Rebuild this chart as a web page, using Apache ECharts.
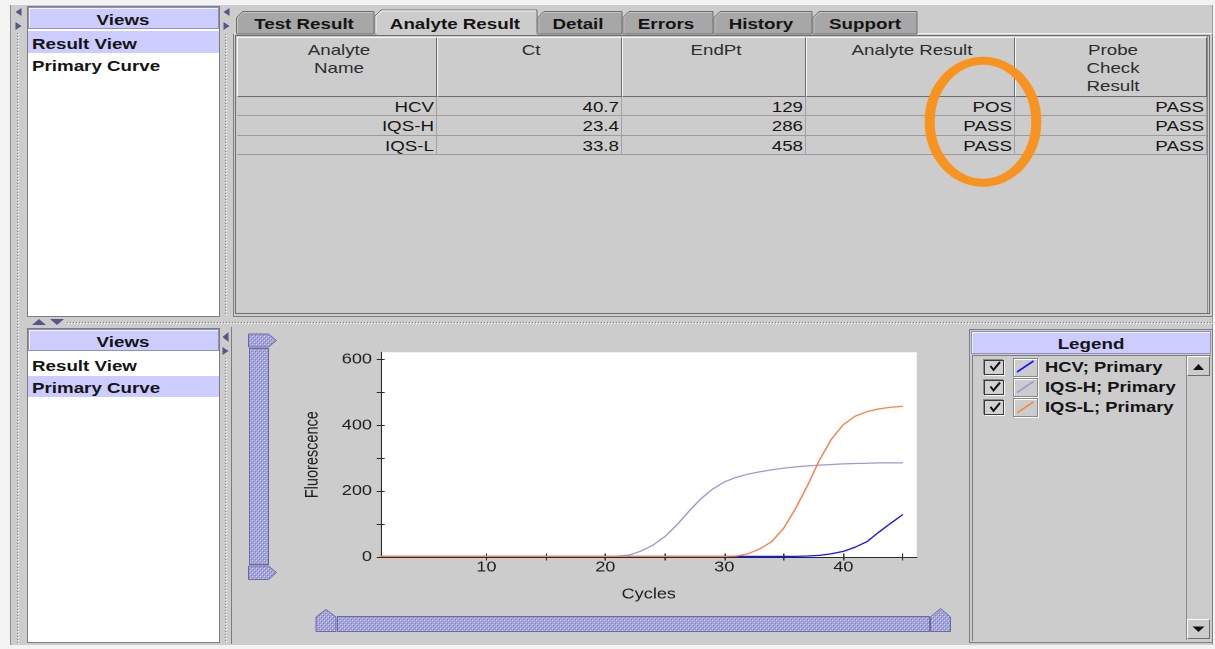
<!DOCTYPE html>
<html>
<head>
<meta charset="utf-8">
<title>Analyte Result</title>
<script src="https://cdn.jsdelivr.net/npm/echarts@6.0.0/dist/echarts.min.js"></script>
<style>
html,body{margin:0;padding:0;background:#f3f3f3;}
body{width:1215px;height:649px;overflow:hidden;font-family:"Liberation Sans",Arial,sans-serif;}
#root{position:absolute;left:0;top:0;width:1215px;height:649px;overflow:hidden;}
.b{position:absolute;box-sizing:border-box;}
.t{position:absolute;white-space:nowrap;line-height:1;color:#141414;font-size:15px;}
.bold{font-weight:bold;}
#chartWrap{position:absolute;left:232px;top:328px;width:735px;height:317px;}
#chart{position:absolute;left:0;top:0;width:588px;height:317px;transform:scaleX(1.25);transform-origin:0 0;}
</style>
</head>
<body>
<div id="root"></div>
<div id="chartWrap"><div id="chart"></div></div>
<script>
// ---------------- data ----------------
const analytes = ['HCV', 'IQS-H', 'IQS-L'];
const ctValues = ['40.7', '23.4', '33.8'];
const endPtValues = ['129', '286', '458'];
const analyteResults = ['POS', 'PASS', 'PASS'];
const probeCheckResults = ['PASS', 'PASS', 'PASS'];
const tableHeaders = [['Analyte', 'Name'], ['Ct'], ['EndPt'], ['Analyte Result'], ['Probe', 'Check', 'Result']];
const tabLabels = ['Test Result', 'Analyte Result', 'Detail', 'Errors', 'History', 'Support'];
const viewItems = ['Result View', 'Primary Curve'];

const cycles = [1,2,3,4,5,6,7,8,9,10,11,12,13,14,15,16,17,18,19,20,21,22,23,24,25,26,27,28,29,30,31,32,33,34,35,36,37,38,39,40,41,42,43,44,45];
const hcvFluorescence = [2,2,2,2,2,2,2,2,2,2, 2,2,2,2,2,2,2,2,2,2, 2,2,2,2,2,2,2,2,2,2, 2,2,2,2,2, 2,3,5,10,17, 30,47,76,103,129];
const iqsHFluorescence = [2,2,2,2,2,2,2,2,2,2, 2,2,2,2,2,2,2,2,2,2, 3,6,18,36,62, 97,138,176,206,228, 242,252,259,265,270, 274,277,279,281,283, 284,285,286,286,286];
const iqsLFluorescence = [2,2,2,2,2,2,2,2,2,2, 2,2,2,2,2,2,2,2,2,2, 2,2,2,2,2,2,2,2,2,2, 3,10,25,47,88, 148,218,295,358,402, 428,442,450,455,458];
const fluorescenceSeries = [hcvFluorescence, iqsHFluorescence, iqsLFluorescence];

const yTickValues = [0, 100, 200, 300, 400, 500, 600];
const yLabelValues = [0, 200, 400, 600];
const xTickValues = [10, 15, 20, 25, 30, 35, 40, 45];
const xLabelValues = [10, 20, 30, 40];

// ---------------- styles ----------------
const lineColors = ['#1414ff', '#9a9ad6', '#ff8046'];
const SX = 1.25; // horizontal stretch of the reference screenshot

const root = document.getElementById('root');
function box(x, y, w, h, css) {
  const d = document.createElement('div');
  d.className = 'b';
  d.style.cssText = `left:${x}px;top:${y}px;width:${w}px;height:${h}px;` + (css || '');
  root.appendChild(d);
  return d;
}
function text(str, x, y, align, cls, css) {
  const d = document.createElement('div');
  d.className = 't ' + (cls || '');
  d.textContent = str;
  const o = align === 'center' ? '50%' : align === 'right' ? '100%' : '0%';
  const tx = align === 'center' ? '-50%' : align === 'right' ? '-100%' : '0px';
  d.style.cssText = `left:${x}px;top:${y}px;transform-origin:${o} 50%;transform:translate(${tx},-50%) scaleX(${SX});` + (css || '');
  root.appendChild(d);
  return d;
}
const dotsV = 'background:repeating-linear-gradient(to bottom,#858585 0 1px,transparent 1px 3px);';
const dotsVw = 'background:repeating-linear-gradient(to bottom,#ffffff 0 1px,transparent 1px 3px);';
const dotsH = 'background:repeating-linear-gradient(to right,#858585 0 1px,transparent 1px 3px);';
const dotsHw = 'background:repeating-linear-gradient(to right,#ffffff 0 1px,transparent 1px 3px);';

// ---------------- background chrome ----------------
box(10, 5, 1203, 640, 'background:#cccccc;');
box(10, 5, 1, 640, 'background:#8c8c8c;');
box(1212, 5, 1, 640, 'background:#a0a0a0;');
// splitter bumps
box(17, 33, 1, 612, dotsV); box(18, 34, 1, 611, dotsVw);
box(225, 34, 1, 282, dotsV); box(226, 35, 1, 281, dotsVw);
box(225, 358, 1, 285, dotsV); box(226, 359, 1, 284, dotsVw);
box(67, 322, 1146, 1, dotsH); box(68, 323, 1145, 1, dotsHw);

// top-left Views panel
box(27, 6, 193, 311, 'background:#ffffff;border:1px solid #7d7d7d;');
box(28, 7, 191, 22, 'background:#ccccff;border:1px solid #8f8fc0;box-shadow:inset 1px 1px 0 #f2f2ff;');
box(28, 31, 191, 22, 'background:#ccccff;');
// bottom-left Views panel
box(27, 328, 193, 315, 'background:#ffffff;border:1px solid #7d7d7d;');
box(28, 329, 191, 22, 'background:#ccccff;border:1px solid #8f8fc0;box-shadow:inset 1px 1px 0 #f2f2ff;');
box(28, 376, 191, 21, 'background:#ccccff;');

// tab content + table
box(233, 33, 980, 284, 'background:#cccccc;border:1px solid #7d7d7d;border-top-color:#f4f4f4;');
box(235, 35, 975, 279, 'border:1px solid #6e6e6e;background:#cccccc;');
const colX = [237, 437, 622, 806, 1015, 1207];
for (let i = 0; i < 5; i++) {
  box(colX[i], 37, colX[i + 1] - colX[i], 60, 'border-left:1px solid #f6f6f6;border-top:1px solid #f6f6f6;border-right:1px solid #6c6c6c;border-bottom:1px solid #6c6c6c;');
}
const rowTop = [96, 115, 134.5, 154];
rowTop.forEach((y, r) => { if (r > 0) box(237, Math.round(y), 970, 1, 'background:#9c9c9c;'); });
for (let i = 1; i < 6; i++) box(colX[i] - 1, 97, 1, 57, 'background:#a2a2a2;');
box(1207, 36, 1, 277, 'background:#8a8a8a;');

// chart panel border
box(231, 327, 1, 317, 'background:#7d7d7d;');

// legend panel
box(969, 329, 244, 314, 'background:#cccccc;border:1px solid #7d7d7d;');
box(971, 331, 240, 23, 'background:#ccccff;border:1px solid #8f8fc0;box-shadow:inset 1px 1px 0 #f2f2ff;');
box(972, 355, 239, 286, 'border-left:1px solid #7d7d7d;border-top:1px solid #7d7d7d;');
box(1186, 356, 24, 284, 'border-left:1px solid #8a8a8a;background:#cccccc;');
box(1187, 356, 23, 20, 'border:1px solid;border-color:#fafafa #6e6e6e #6e6e6e #fafafa;background:#cccccc;');
box(1187, 619, 23, 20, 'border:1px solid;border-color:#fafafa #6e6e6e #6e6e6e #fafafa;background:#cccccc;');
const legendY = [366.5, 387, 407.3];
legendY.forEach(cy => {
  box(984, cy - 7, 20, 15, 'background:#d2d2d2;border:1px solid #3a3a3a;box-shadow:1px 1px 0 #fafafa,-1px -1px 0 #8a8a8a;');
  box(1013, cy - 9, 25, 19, 'border:1px solid #8a8a8a;box-shadow:inset 1px 1px 0 #fafafa,1px 1px 0 #fafafa;');
});

// ---------------- vector chrome ----------------
const tabs = [[236.5, 374], [375, 537], [538, 622], [623, 713], [714, 812], [813, 917]];
const selectedTab = 1;
let svg = `<svg width="1215" height="649" xmlns="http://www.w3.org/2000/svg" style="position:absolute;left:0;top:0">`;
svg += `<defs><pattern id="dots" width="4" height="4" patternUnits="userSpaceOnUse"><rect width="4" height="4" fill="#a3a3db"/><rect width="1" height="1" fill="#d2d2f6"/><rect x="2" y="2" width="1" height="1" fill="#d2d2f6"/><rect x="1" y="1" width="1" height="1" fill="#8282bd"/><rect x="3" y="3" width="1" height="1" fill="#8282bd"/></pattern></defs>`;
tabs.forEach(([x0, x1], i) => {
  const sel = i === selectedTab; const top = sel ? 10 : 11.5;
  svg += `<polygon points="${x0},34 ${x0},${top + 6} ${x0 + 6},${top} ${x1},${top} ${x1},34" fill="${sel ? '#cccccc' : '#a7a7a7'}" stroke="#6e6e6e" stroke-width="1"/>`;
  svg += `<polyline points="${x0 + 1},33.5 ${x0 + 1},${top + 6.5} ${x0 + 6.5},${top + 1} ${x1 - 1},${top + 1}" fill="none" stroke="${sel ? '#f4f4f4' : '#c2c2c2'}" stroke-width="1"/>`;
  if (sel) svg += `<rect x="${x0 + 1.5}" y="32" width="${x1 - x0 - 2}" height="3" fill="#cccccc"/>`;
});
const arrow = '#55558a';
// splitter arrows
svg += `<polygon points="21.5,8 21.5,16 15.5,12" fill="${arrow}"/><polygon points="15.5,22 15.5,30 21.5,26" fill="${arrow}"/>`;
svg += `<polygon points="229.5,8 229.5,16 223.5,12" fill="${arrow}"/><polygon points="223.5,22 223.5,30 229.5,26" fill="${arrow}"/>`;
svg += `<polygon points="228.5,332 228.5,342 222.5,337" fill="${arrow}"/><polygon points="222.5,347 222.5,355 228.5,351" fill="${arrow}"/>`;
svg += `<polygon points="32,325 46,325 39,319" fill="${arrow}"/><polygon points="50,319 64,319 57,325" fill="${arrow}"/>`;
// sliders
const sl = 'fill="url(#dots)" stroke="#6a6a9c" stroke-width="1"';
svg += `<polygon points="248.5,334 268.5,334 276.5,340.5 268.5,347 248.5,347" ${sl}/>`;
svg += `<rect x="249.5" y="348.5" width="19" height="216" ${sl}/>`;
svg += `<polygon points="248.5,566 268.5,566 276.5,572.5 268.5,579.5 248.5,579.5" ${sl}/>`;
svg += `<polygon points="316,631.5 316,617 326,609.5 336,617 336,631.5" ${sl}/>`;
svg += `<rect x="337.5" y="616.5" width="592" height="15" ${sl}/>`;
svg += `<polygon points="930.5,631.5 930.5,617 940.5,608.5 950.5,617 950.5,631.5" ${sl}/>`;
// legend glyphs
legendY.forEach((cy, i) => {
  svg += `<path d="M990.5,${cy - 0.5} L993.5,${cy + 3.5} L1000,${cy - 4.5}" fill="none" stroke="#111" stroke-width="2"/>`;
  svg += `<line x1="1017" y1="${cy + 5.5}" x2="1033.5" y2="${cy - 5.5}" stroke="${lineColors[i]}" stroke-width="1.6"/>`;
});
svg += `<polygon points="1193,370 1204,370 1198.5,364" fill="#111"/><polygon points="1192.5,626.5 1204.5,626.5 1198.5,632" fill="#111"/>`;
// highlight ellipse
svg += `<g transform="scale(${SX},1)"><ellipse cx="${983 / SX}" cy="121.7" rx="${53.3 / SX}" ry="61" fill="none" stroke="#f7931e" stroke-width="8"/></g>`;
svg += `</svg>`;
const svgHolder = document.createElement('div');
svgHolder.innerHTML = svg;
root.appendChild(svgHolder.firstChild);

// ---------------- texts ----------------
text('Views', 123, 18.7, 'center', 'bold');
text(viewItems[0], 32, 42.8, 'left', 'bold');
text(viewItems[1], 32, 64.8, 'left', 'bold');
text('Views', 123, 340.5, 'center', 'bold');
text(viewItems[0], 32, 365, 'left', 'bold');
text(viewItems[1], 32, 386.7, 'left', 'bold');

const tabTextX = [303.5, 455, 578, 666, 760.5, 865];
tabLabels.forEach((l, i) => text(l, tabTextX[i], 22.5, 'center', 'bold'));

const lineY = [49, 67, 85];
tableHeaders.forEach((lines, c) => {
  const cx = (colX[c] + colX[c + 1]) / 2 + 1.5;
  lines.forEach((l, k) => text(l, cx, lineY[k], 'center', '', 'color:#2c2c2c;'));
});
const rowY = [106, 125.2, 144.6];
const columns = [analytes, ctValues, endPtValues, analyteResults, probeCheckResults];
columns.forEach((vals, c) => {
  vals.forEach((v, r) => text(v, colX[c + 1] - 3, rowY[r], 'right', '', 'color:#161616;'));
});

text('Legend', 1090.5, 343, 'center', 'bold');
analytes.forEach((a, i) => text(a + '; Primary', 1045, legendY[i], 'left', 'bold', 'font-size:14.7px;'));

// ---------------- chart ----------------
const chart = echarts.init(document.getElementById('chart'), null, { renderer: 'canvas', devicePixelRatio: 2 });
const axisColor = '#2a2a2a';
const fontFamily = 'Liberation Sans, Arial, sans-serif';
const xMin = 1.13, xMax = 46.17, yMin = 0, yMax = 622;
chart.setOption({
  animation: false,
  grid: { left: 119, right: 40.2, top: 24.3, bottom: 88, show: true, backgroundColor: '#ffffff', borderWidth: 0, containLabel: false, outerBoundsMode: 'none' },
  xAxis: [
    {
      type: 'value', min: xMin, max: xMax, position: 'bottom',
      axisLine: { show: true, onZero: false, lineStyle: { color: axisColor, width: 1 } },
      axisTick: { show: true, customValues: xTickValues, length: 3.5, inside: false, lineStyle: { color: axisColor, width: 1 } },
      axisLabel: { show: true, customValues: xLabelValues, margin: 3, fontSize: 14.5, color: '#1e1e1e', fontFamily },
      splitLine: { show: false },
      name: 'Cycles', nameLocation: 'middle', nameGap: 30,
      nameTextStyle: { fontSize: 14.5, color: '#1e1e1e', fontFamily }
    },
    {
      type: 'value', min: xMin, max: xMax, position: 'bottom',
      axisLine: { show: false, onZero: false },
      axisTick: { show: true, customValues: xTickValues, length: 3.5, inside: true, lineStyle: { color: axisColor, width: 1 } },
      axisLabel: { show: false },
      splitLine: { show: false }
    }
  ],
  yAxis: [
    {
      type: 'value', min: yMin, max: yMax, position: 'left',
      axisLine: { show: true, onZero: false, lineStyle: { color: axisColor, width: 1 } },
      axisTick: { show: true, customValues: yTickValues, length: 3.2, inside: false, lineStyle: { color: axisColor, width: 1 } },
      axisLabel: { show: true, customValues: yLabelValues, margin: 7, fontSize: 14.5, color: '#1e1e1e', fontFamily },
      splitLine: { show: false },
      name: 'Fluorescence', nameLocation: 'middle', nameGap: 47, nameRotate: 90,
      nameTextStyle: { fontSize: 14.5, color: '#1e1e1e', fontFamily }
    },
    {
      type: 'value', min: yMin, max: yMax, position: 'left',
      axisLine: { show: false, onZero: false },
      axisTick: { show: true, customValues: yTickValues, length: 3.2, inside: true, lineStyle: { color: axisColor, width: 1 } },
      axisLabel: { show: false },
      splitLine: { show: false }
    }
  ],
  series: analytes.map((a, i) => ({
    name: a + '; Primary',
    type: 'line',
    xAxisIndex: 0,
    yAxisIndex: 0,
    showSymbol: false,
    smooth: false,
    lineStyle: { color: lineColors[i], width: 1.25 },
    itemStyle: { color: lineColors[i] },
    data: cycles.map((c, k) => [c, fluorescenceSeries[i][k]])
  }))
});
</script>
</body>
</html>
